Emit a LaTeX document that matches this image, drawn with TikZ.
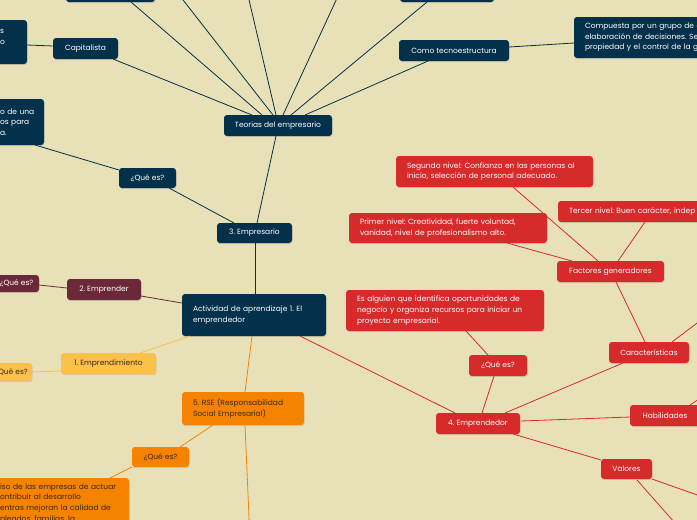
\documentclass[tikz,border=0pt]{standalone}
\usepackage{fontspec}
\setmainfont{Poppins}
\usetikzlibrary{shadows}
\frenchspacing
\definecolor{bgc}{HTML}{E8E1B8}
\definecolor{navy}{HTML}{03304A}
\definecolor{redc}{HTML}{D62A2B}
\definecolor{maroon}{HTML}{6A2838}
\definecolor{orng}{HTML}{F58300}
\definecolor{yelw}{HTML}{FCC14B}
\definecolor{dtxt}{HTML}{3A2A18}
\newcommand\mbx[7]{%
  \pgfmathsetmacro\mybh{#5-#3}%
  \pgfmathsetmacro\mytw{#4-#2-22}%
  \node[#6, anchor=north west, inner xsep=11pt, inner ysep=0pt, outer sep=0pt, text width=\mytw pt, minimum height=\mybh pt, align=left] (#1) at (#2,#3) {#7};}
\newcommand\cbx[7]{%
  \pgfmathsetmacro\mybw{#4-#2}%
  \pgfmathsetmacro\mybh{#5-#3}%
  \node[#6, anchor=north west, inner sep=0pt, outer sep=0pt, minimum width=\mybw pt, minimum height=\mybh pt, align=center] (#1) at (#2,#3) {#7};}
\tikzset{
  bx/.style={rounded corners=3pt, font=\fontsize{7.5}{10.7}\selectfont\frenchspacing,
    drop shadow={opacity=0.22, shadow xshift=0.5pt, shadow yshift=-1.2pt}},
  nv/.style={bx, fill=navy, text=white},
  rd/.style={bx, fill=redc, text=white},
  mr/.style={bx, fill=maroon, text=white},
  og/.style={bx, fill=orng, text=dtxt},
  yl/.style={bx, fill=yelw, text=dtxt},
  cn/.style={line width=0.8pt},
  nl/.style={cn, draw=navy},
  rl/.style={cn, draw=redc},
  ml/.style={cn, draw=maroon},
  ol/.style={cn, draw=orng},
  yll/.style={cn, draw=yelw}
}
\begin{document}
\begin{tikzpicture}[x=1pt,y=-1pt]
\useasboundingbox (0,0) rectangle (697,520);
\clip (0,0) rectangle (697,520);
\fill[bgc] (0,0) rectangle (697,520);
% free ends
\coordinate (f1) at (167.4,-20);
\coordinate (f2) at (244.4,-20);
\coordinate (f3) at (345.4,-20);
\coordinate (f4) at (250,540);
\coordinate (f5) at (717,308);
\coordinate (f6) at (720,385);
\coordinate (f7) at (717,502);
\coordinate (f8) at (690,540);
% navy nodes
\cbx{top1}{66}{-20}{155}{2}{nv}{}
\cbx{top2}{400}{-20}{494}{2}{nv}{}
\mbx{lcutA}{-11}{20}{27}{64}{nv}{\mbox{s}\\\mbox{o}\\\mbox{}}
\mbx{lcutB}{-11}{99}{44}{145}{nv}{\mbox{o de una}\\\mbox{os para}\\\mbox{a.}}
\cbx{cap}{53}{38}{118}{59}{nv}{Capitalista}
\cbx{teo}{224}{115}{332}{136}{nv}{Teorias del empresario}
\cbx{como}{399}{40}{509}{61}{nv}{Como tecnoestructura}
\mbx{comp}{574}{17}{790}{58}{nv}{\mbox{Compuesta por un grupo de e}\\\mbox{elaboración de decisiones. Se}\\\mbox{propiedad y el control de la g}}
\cbx{que3}{119}{168}{176}{188}{nv}{¿Qué es?}
\cbx{emp3}{217}{223}{292}{243}{nv}{3. Empresario}
\mbx{act}{182}{294}{326}{336}{nv}{\mbox{Actividad de aprendizaje 1. El}\\\mbox{emprendedor}}
% maroon
\cbx{emp2}{67}{279}{141}{300}{mr}{2. Emprender}
\cbx{que2}{-6}{275}{39}{292}{mr}{¿Qué es?}
% yellow
\cbx{emp1}{61}{353}{156}{374}{yl}{1. Emprendimiento}
\cbx{que1}{-10}{363}{32}{381}{yl}{¿Qué es?}
% orange
\mbx{rse}{182}{392}{304}{425}{og}{\mbox{5. RSE (Responsabilidad}\\\mbox{Social Empresarial)}}
\cbx{que5}{132}{447}{189}{467}{og}{¿Qué es?}
\mbx{big5}{-11}{478}{129}{548}{og}{\mbox{iso de las empresas de actuar}\\\mbox{ontribuir al desarrollo}\\\mbox{entras mejoran la calidad de}\\\mbox{pleados, familias, la}\\\mbox{}\\\mbox{}}
% red
\cbx{emp4}{436}{413}{520}{434}{rd}{4. Emprendedor}
\cbx{que4}{469}{355}{527}{376}{rd}{¿Qué es?}
\mbx{esal}{346}{290}{544}{331}{rd}{\mbox{Es alguien que identifica oportunidades de}\\\mbox{negocio y organiza recursos para iniciar un}\\\mbox{proyecto empresarial.}}
\cbx{car}{609}{342}{689}{363}{rd}{Características}
\cbx{hab}{630}{405}{700}{426}{rd}{Habilidades}
\cbx{val}{601}{459}{652}{479}{rd}{Valores}
\cbx{fac}{557}{261}{664}{282}{rd}{Factores generadores}
\mbx{seg}{396}{156}{593}{187}{rd}{\mbox{Segundo nivel: Confianza en las personas al}\\\mbox{inicio, selección de personal adecuado.}}
\mbx{pri}{349}{213}{547}{243}{rd}{\mbox{Primer nivel: Creatividad, fuerte voluntad,}\\\mbox{vanidad, nivel de profesionalismo alto.}}
\mbx{ter}{558}{201}{800}{222}{rd}{\mbox{Tercer nivel: Buen carácter, indep}}
% navy connectors
\draw[nl] ([shift={(60,21)}]cap.north west) -- ([shift={(28,0)}]teo.north west);
\draw[nl] ([shift={(65,22)}]top1.north west) -- ([shift={(38,0)}]teo.north west);
\draw[nl] (f1) -- ([shift={(49,0)}]teo.north west);
\draw[nl] (f2) -- ([shift={(52,0)}]teo.north west);
\draw[nl] (f3) -- ([shift={(59,0)}]teo.north west);
\draw[nl] ([shift={(27,22)}]top2.north west) -- ([shift={(67,0)}]teo.north west);
\draw[nl] ([shift={(29,21)}]como.north west) -- ([shift={(81,0)}]teo.north west);
\draw[nl] ([shift={(110,7)}]como.north west) -- ([shift={(0,26)}]comp.north west);
\draw[nl] ([shift={(0,8)}]cap.north west) -- ([shift={(38,25)}]lcutA.north west);
\draw[nl] ([shift={(52,21)}]teo.north west) -- ([shift={(40,0)}]emp3.north west);
\draw[nl] ([shift={(0,2)}]que3.north west) -- ([shift={(46,46)}]lcutB.north west);
\draw[nl] ([shift={(50,20)}]que3.north west) -- ([shift={(17,0)}]emp3.north west);
\draw[nl] ([shift={(38,20)}]emp3.north west) -- ([shift={(73,0)}]act.north west);
% maroon
\draw[ml] ([shift={(0,9)}]act.north west) -- ([shift={(74,17)}]emp2.north west);
\draw[ml] ([shift={(0,9)}]emp2.north west) -- ([shift={(45,10)}]que2.north west);
% yellow
\draw[yll] ([shift={(8,42)}]act.north west) -- ([shift={(79,0)}]emp1.north west);
\draw[yll] ([shift={(0,18)}]emp1.north west) -- ([shift={(42,9)}]que1.north west);
% orange
\draw[ol] ([shift={(70,42)}]act.north west) -- ([shift={(63,0)}]rse.north west);
\draw[ol] ([shift={(63,33)}]rse.north west) -- (f4);
\draw[ol] ([shift={(31,33)}]rse.north west) -- ([shift={(48,0)}]que5.north west);
\draw[ol] ([shift={(0,20)}]que5.north west) -- ([shift={(121,0)}]big5.north west);
% red
\draw[rl] ([shift={(118,42)}]act.north west) -- ([shift={(19,0)}]emp4.north west);
\draw[rl] ([shift={(46,0)}]emp4.north west) -- ([shift={(25,21)}]que4.north west);
\draw[rl] ([shift={(19,0)}]que4.north west) -- ([shift={(120,41)}]esal.north west);
\draw[rl] ([shift={(69,0)}]emp4.north west) -- ([shift={(14,21)}]car.north west);
\draw[rl] ([shift={(85,8)}]emp4.north west) -- ([shift={(0,12)}]hab.north west);
\draw[rl] ([shift={(77,21)}]emp4.north west) -- ([shift={(0,1)}]val.north west);
\draw[rl] ([shift={(59,21)}]fac.north west) -- ([shift={(36,0)}]car.north west);
\draw[rl] ([shift={(41,0)}]fac.north west) -- ([shift={(117,31)}]seg.north west);
\draw[rl] ([shift={(15,0)}]fac.north west) -- ([shift={(158,30)}]pri.north west);
\draw[rl] ([shift={(61,0)}]fac.north west) -- ([shift={(87,21)}]ter.north west);
\draw[rl] ([shift={(63,0)}]car.north west) -- (f5);
\draw[rl] ([shift={(60,0)}]hab.north west) -- (f6);
\draw[rl] ([shift={(51,20)}]val.north west) -- (f7);
\draw[rl] ([shift={(36,21)}]val.north west) -- (f8);
\end{tikzpicture}
\end{document}
